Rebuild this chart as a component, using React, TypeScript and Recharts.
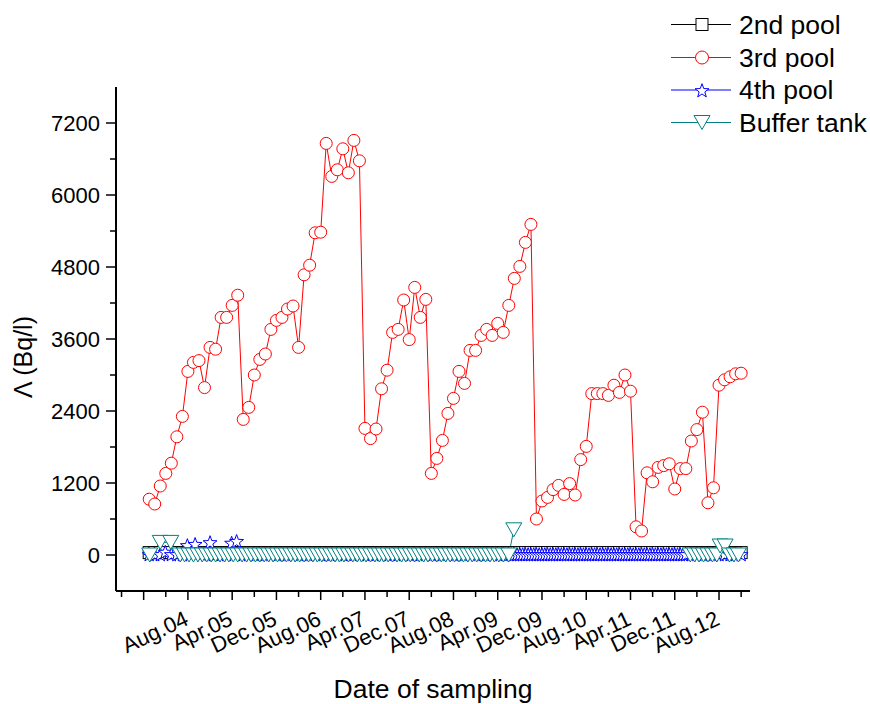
import React from "react";
import { LineChart, Line, XAxis, YAxis } from "recharts";

const FONT = "'Liberation Sans', Arial, sans-serif";

// x values are months counted from Jan.2000 (Dec.03 = 47, Aug.04 = 55)
const xTicks = [43, 47, 51, 55, 59, 63, 67, 71, 75, 79, 83, 87, 91, 95, 99, 103, 107, 111, 115, 119, 123, 127, 131, 135, 139, 143, 147, 151, 155];
const xMajorTicks = [47, 55, 63, 71, 79, 87, 95, 103, 111, 119, 127, 135, 143, 151];
const xMajorLabels = ["", "Aug.04", "Apr.05", "Dec.05", "Aug.06", "Apr.07", "Dec.07", "Aug.08", "Apr.09", "Dec.09", "Aug.10", "Apr.11", "Dec.11", "Aug.12"];
const yTicks = [0, 600, 1200, 1800, 2400, 3000, 3600, 4200, 4800, 5400, 6000, 6600, 7200];

// monthly samples, Jan.04 .. Dec.12
const firstSampleMonth = 48;

const thirdPoolValues = [
  930, 850, 1150, 1360, 1530, 1970, 2310, 3060, 3210, 3240, 2790, 3460,
  3430, 3960, 3960, 4160, 4330, 2260, 2460, 3000, 3260, 3350, 3760, 3910,
  3960, 4100, 4150, 3460, 4670, 4830, 5370, 5380, 6860, 6310, 6420, 6770,
  6370, 6910, 6570, 2110, 1940, 2100, 2770, 3080, 3710, 3760, 4250, 3590,
  4460, 3960, 4260, 1360, 1610, 1910, 2360, 2610, 3060, 2860, 3410, 3410,
  3660, 3760, 3660, 3860, 3710, 4160, 4610, 4810, 5210, 5510, 600, 900,
  960, 1090, 1160, 1010, 1190, 1000, 1590, 1810, 2690, 2690, 2690, 2660,
  2830, 2710, 3000, 2730, 470, 400, 1370, 1220, 1460, 1490, 1520, 1100,
  1440, 1440, 1900, 2090, 2380, 870, 1120, 2830, 2920, 2970, 3020, 3030,
];

const secondPoolValues = [
  40, 40, 40, 40, 40, 40, 40, 40, 40, 40, 40, 40,
  40, 40, 40, 40, 40, 40, 40, 40, 40, 40, 40, 40,
  40, 40, 40, 40, 40, 40, 40, 40, 40, 40, 40, 40,
  40, 40, 40, 40, 40, 40, 40, 40, 40, 40, 40, 40,
  40, 40, 40, 40, 40, 40, 40, 40, 40, 40, 40, 40,
  40, 40, 40, 40, 40, 40, 40, 40, 40, 40, 40, 40,
  40, 40, 40, 40, 40, 40, 40, 40, 40, 40, 40, 40,
  40, 40, 40, 40, 40, 40, 40, 40, 40, 40, 40, 40,
  40, 40, 40, 40, 40, 40, 40, 40, 40, 40, 40, 40,
];

const fourthPoolMonths = [
  48, 49, 50, 50.9, 52, 53, 54, 54.9, 56.3, 57.5, 58.2, 59, 60, 61, 62, 62.9, 63.8,
  65, 66, 67, 68, 69, 70, 71, 72, 73, 74, 75, 76, 77, 78, 79, 80, 81, 82, 83, 84, 85, 86, 87, 88, 89,
  90, 91, 92, 93, 94, 95, 96, 97, 98, 99, 100, 101, 102, 103, 104, 105, 106, 107, 108, 109, 110, 111, 112, 113,
  113.5, 114, 114.5, 115, 115.5, 116, 116.5, 117, 117.5, 118, 118.5, 119, 119.5, 120, 120.5, 121,
  121.5, 122, 122.5, 123, 123.5, 124, 124.5, 125, 125.5, 126, 126.5, 127, 127.5, 128, 128.5, 129,
  129.5, 130, 130.5, 131, 131.5, 132, 132.5, 133, 133.5, 134, 134.5, 135, 135.5, 136, 136.5, 137,
  137.5, 138, 138.5, 139, 139.5, 140, 140.5, 141, 141.5, 142, 142.5, 143, 143.5, 144, 144.5, 145,
  146, 147, 148, 149, 150, 151, 152, 153, 154, 155,
];
const fourthPoolValues = [
  0, 0, 0, 40, 0, 0, 0, 150, 170, 0, 0, 200, 0, 0, 0, 190, 220,
  0, 0, 0, 0, 0, 0, 0, 0, 0, 0, 0, 0, 0, 0, 0, 0, 0, 0, 0, 0, 0, 0, 0, 0, 0,
  0, 0, 0, 0, 0, 0, 0, 0, 0, 0, 0, 0, 0, 0, 0, 0, 0, 0, 0, 0, 0, 0, 0, 0,
  0, 0, 0, 0, 0, 0, 0, 0, 0, 0, 0, 0, 0, 0, 0, 0,
  0, 0, 0, 0, 0, 0, 0, 0, 0, 0, 0, 0, 0, 0, 0, 0,
  0, 0, 0, 0, 0, 0, 0, 0, 0, 0, 0, 0, 0, 0, 0, 0,
  0, 0, 0, 0, 0, 0, 0, 0, 0, 0, 0, 0, 0, 0, 0, 0,
  0, 0, 0, 0, 0, 0, 0, 0, 0, 0,
];

const bufferMonths = [
  48.1, 50.0, 51.9,
  53.6, 54.4, 55.2, 56.0, 56.8, 57.6, 58.4, 59.2, 60.0, 60.8, 61.6, 62.4, 63.2, 64.0, 64.8,
  65.6, 66.4, 67.2, 68.0, 68.8, 69.6, 70.4, 71.2, 72.0, 72.8, 73.6, 74.4, 75.2, 76.0, 76.8,
  77.6, 78.4, 79.2, 80.0, 80.8, 81.6, 82.4, 83.2, 84.0, 84.8, 85.6, 86.4, 87.2, 88.0, 88.8,
  89.6, 90.4, 91.2, 92.0, 92.8, 93.6, 94.4, 95.2, 96.0, 96.8, 97.6, 98.4, 99.2, 100.0, 100.8,
  101.6, 102.4, 103.2, 104.0, 104.8, 105.6, 106.4, 107.2, 108.0, 108.8, 109.6, 110.4, 111.2, 112.0, 113.0,
  113.9, 114.5,
  145.8, 146.6, 147.4, 148.2, 149.0, 149.8, 150.6, 151.2, 152.1, 152.9, 153.7, 154.5,
];
const bufferValues: (number | null)[] = [
  0, 210, 210,
  0, 0, 0, 0, 0, 0, 0, 0, 0, 0, 0, 0, 0, 0, 0,
  0, 0, 0, 0, 0, 0, 0, 0, 0, 0, 0, 0, 0, 0, 0,
  0, 0, 0, 0, 0, 0, 0, 0, 0, 0, 0, 0, 0, 0, 0,
  0, 0, 0, 0, 0, 0, 0, 0, 0, 0, 0, 0, 0, 0, 0,
  0, 0, 0, 0, 0, 0, 0, 0, 0, 0, 0, 0, 0, 0, 0,
  420, null,
  0, 0, 0, 0, 0, 0, 0, 150, 150, 0, 0, 0,
];

const secondPool = secondPoolValues.map((v, i) => ({ x: firstSampleMonth + i, v }));
const thirdPool = thirdPoolValues.map((v, i) => ({ x: firstSampleMonth + i, v }));
const fourthPool = fourthPoolMonths.map((x, i) => ({ x, v: fourthPoolValues[i] }));
const bufferTank = bufferMonths.map((x, i) => ({ x, v: bufferValues[i] }));

const RED = "#ff0000";
const BLUE = "#0000ff";
const TEAL = "#008080";

function starPoints(cx: number, cy: number, R = 7.3, r = 3) {
  const pts: string[] = [];
  for (let k = 0; k < 10; k++) {
    const a = -Math.PI / 2 + (k * Math.PI) / 5;
    const rad = k % 2 === 0 ? R : r;
    pts.push(`${cx + rad * Math.cos(a)},${cy + rad * Math.sin(a)}`);
  }
  return pts.join(" ");
}

function trianglePoints(cx: number, cy: number) {
  return `${cx - 8},${cy - 7} ${cx + 8},${cy - 7} ${cx},${cy + 7}`;
}

const squareDot = (p: any) => {
  if (p.cx == null || p.cy == null || p.value == null) return <g key={`sq-${p.index}`} />;
  return (
    <rect key={`sq-${p.index}`} x={p.cx - 6} y={p.cy - 6} width={12} height={12} fill="#fff" stroke="#000" strokeWidth={1} />
  );
};

const starDot = (p: any) => {
  if (p.cx == null || p.cy == null || p.value == null) return <g key={`st-${p.index}`} />;
  return <polygon key={`st-${p.index}`} points={starPoints(p.cx, p.cy)} fill="#fff" stroke={BLUE} strokeWidth={1} />;
};

const triangleDot = (p: any) => {
  if (p.cx == null || p.cy == null || p.value == null) return <g key={`tr-${p.index}`} />;
  return <polygon key={`tr-${p.index}`} points={trianglePoints(p.cx, p.cy)} fill="#fff" stroke={TEAL} strokeWidth={1} />;
};

function XTick(props: any) {
  const { x, y, payload } = props;
  const i = xMajorTicks.indexOf(payload.value);
  const len = i >= 0 ? 9 : 6;
  const label = i >= 0 ? xMajorLabels[i] : "";
  const lx = x + 2;
  const ly = y + 33;
  return (
    <g>
      <line x1={x} x2={x} y1={y} y2={y + len} stroke="#000" strokeWidth={1.5} />
      {label && (
        <text x={lx} y={ly} transform={`rotate(-25 ${lx} ${ly})`} textAnchor="end" fontSize={22} fontFamily={FONT} fill="#000">
          {label}
        </text>
      )}
    </g>
  );
}

function YTick(props: any) {
  const { x, y, payload } = props;
  const major = payload.value % 1200 === 0;
  return (
    <g>
      <line x1={x - (major ? 10 : 6)} x2={x} y1={y} y2={y} stroke="#000" strokeWidth={1.5} />
      {major && (
        <text x={x - 16} y={y} dy="0.36em" textAnchor="end" fontSize={22} fontFamily={FONT} fill="#000">
          {payload.value}
        </text>
      )}
    </g>
  );
}

const legendRows = [
  { label: "2nd pool", color: "#000", y: 24.5, marker: "square" },
  { label: "3rd pool", color: RED, y: 57.5, marker: "circle" },
  { label: "4th pool", color: BLUE, y: 90, marker: "star" },
  { label: "Buffer tank", color: TEAL, y: 122.5, marker: "triangle" },
];

function LegendMarker({ marker, color, cx, cy }: { marker: string; color: string; cx: number; cy: number }) {
  if (marker === "square") return <rect x={cx - 6} y={cy - 6} width={12} height={12} fill="#fff" stroke={color} />;
  if (marker === "circle") return <circle cx={cx} cy={cy} r={6.5} fill="#fff" stroke={color} />;
  if (marker === "star") return <polygon points={starPoints(cx, cy + 1)} fill="#fff" stroke={color} />;
  return <polygon points={trianglePoints(cx, cy)} fill="#fff" stroke={color} />;
}

export default function App() {
  return (
    <div style={{ position: "relative", width: 870, height: 704, background: "#fff" }}>
      <style>{"body{margin:0;background:#fff}"}</style>
      <LineChart width={870} height={704} margin={{ top: 87, right: 120, bottom: 53, left: 56 }}>
        <XAxis
          type="number"
          dataKey="x"
          domain={[42, 156.6]}
          ticks={xTicks}
          interval={0}
          allowDataOverflow
          height={60}
          tickSize={0}
          tickMargin={0}
          tickLine={false}
          axisLine={{ stroke: "#000", strokeWidth: 2 }}
          tick={(p: any) => <XTick {...p} />}
        />
        <YAxis
          type="number"
          domain={[-600, 7800]}
          ticks={yTicks}
          interval={0}
          allowDataOverflow
          width={60}
          tickSize={0}
          tickMargin={0}
          tickLine={false}
          axisLine={{ stroke: "#000", strokeWidth: 2 }}
          tick={(p: any) => <YTick {...p} />}
        />
        <Line data={secondPool} dataKey="v" type="linear" stroke="#000" strokeWidth={1} dot={squareDot} activeDot={false} isAnimationActive={false} />
        <Line data={thirdPool} dataKey="v" type="linear" stroke={RED} strokeWidth={1} dot={{ r: 6, fill: "#fff", stroke: RED, strokeWidth: 1 }} activeDot={false} isAnimationActive={false} />
        <Line data={fourthPool} dataKey="v" type="linear" stroke={BLUE} strokeWidth={1} dot={starDot} activeDot={false} isAnimationActive={false} />
        <Line data={bufferTank} dataKey="v" type="linear" stroke={TEAL} strokeWidth={1} dot={triangleDot} activeDot={false} isAnimationActive={false} />
      </LineChart>
      <svg width={870} height={704} style={{ position: "absolute", left: 0, top: 0, pointerEvents: "none" }} fontFamily={FONT}>
        <text transform="translate(32,357) rotate(-90)" textAnchor="middle" fontSize={25} fill="#000">
          Λ (Bq/l)
        </text>
        <text x={433} y={698} textAnchor="middle" fontSize={26.5} fill="#000">
          Date of sampling
        </text>
        {legendRows.map((r) => (
          <g key={r.label}>
            <line x1={671} x2={731} y1={r.y} y2={r.y} stroke={r.color} strokeWidth={1} />
            <LegendMarker marker={r.marker} color={r.color} cx={702} cy={r.y} />
            <text x={739} y={r.y + 9} fontSize={26.5} fill="#000">
              {r.label}
            </text>
          </g>
        ))}
      </svg>
    </div>
  );
}
